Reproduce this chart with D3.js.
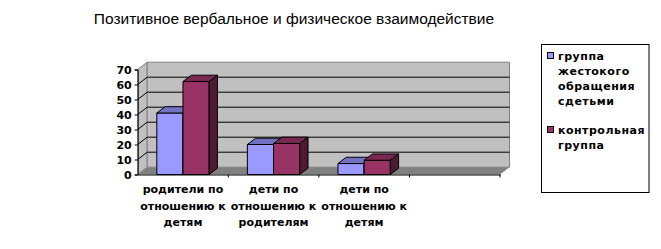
<!DOCTYPE html>
<html lang="ru">
<head>
<meta charset="UTF-8">
<title>Позитивное вербальное и физическое взаимодействие</title>
<script src="https://cdnjs.cloudflare.com/ajax/libs/d3/7.8.5/d3.min.js"></script>
<style>
  body { margin: 0; background: #fff; }
  svg { display: block; }
</style>
</head>
<body>
<div id="wrapper"></div>
<script>
const title = 'Позитивное вербальное и физическое взаимодействие'
// 4-я категория пустая, как в исходнике
const categories = [
    ['родители по', 'отношению к', 'детям'],
    ['дети по', 'отношению к', 'родителям'],
    ['дети по', 'отношению к', 'детям'],
    []
]
const seriesNames = [
    ['группа', 'жестокого', 'обращения', 'сдетьми'],
    ['контрольная', 'группа']
]
const abuseGroup = [41, 20, 7.3, null]
const controlGroup = [62, 20.7, 9.5, null]
const yTicks = [0, 10, 20, 30, 40, 50, 60, 70]

const colors = [
    { front: '#9999ff', top: '#7272c4', side: '#5c5ca3' },
    { front: '#993366', top: '#7a2852', side: '#4d1a33' }
]

const width = 661, height = 249
const plot = { left: 137.7, right: 500, top: 69.5, bottom: 174.5 }
const depth = { dx: 9.5, dy: -7.3 }
const barDepth = { dx: 8.3, dy: -6.3 }

const svg = d3.select('#wrapper').append('svg')
    .attr('width', width)
    .attr('height', height)
    .attr('viewBox', `0 0 ${width} ${height}`)

const xScale = d3.scaleBand()
    .domain(d3.range(categories.length))
    .range([plot.left, plot.right])

const yScale = d3.scaleLinear()
    .domain([0, 70])
    .range([plot.bottom, plot.top])

const pts = arr => arr.map(p => p.join(',')).join(' ')

// стены и пол
const y0 = yScale(0), yMax = yScale(70)
svg.append('polygon')  // левая стенка
    .attr('points', pts([[plot.left, y0], [plot.left, yMax], [plot.left + depth.dx, yMax + depth.dy], [plot.left + depth.dx, y0 + depth.dy]]))
    .attr('fill', '#c0c0c0').attr('stroke', '#808080')
svg.append('polygon')  // задняя стенка
    .attr('points', pts([[plot.left + depth.dx, yMax + depth.dy], [plot.right + depth.dx, yMax + depth.dy], [plot.right + depth.dx, y0 + depth.dy], [plot.left + depth.dx, y0 + depth.dy]]))
    .attr('fill', '#c0c0c0').attr('stroke', '#808080')
svg.append('polygon')  // пол
    .attr('points', pts([[plot.left, y0], [plot.right, y0], [plot.right + depth.dx, y0 + depth.dy], [plot.left + depth.dx, y0 + depth.dy]]))
    .attr('fill', '#808080')

// линии сетки
const grid = yTicks.filter(v => v > 0 && v < 70)
svg.append('g').selectAll('path').data(grid).join('path')
    .attr('d', v => `M${plot.left},${yScale(v)}L${plot.left + depth.dx},${yScale(v) + depth.dy}H${plot.right + depth.dx}`)
    .attr('fill', 'none').attr('stroke', '#000').attr('stroke-width', 1)

// оси
const yAxis = svg.append('g')
    .attr('transform', `translate(${plot.left},0)`)
    .call(d3.axisLeft(yScale).tickValues(yTicks).tickSize(3).tickPadding(3).tickFormat(d3.format('d')))
yAxis.select('.domain').attr('stroke', '#000')
yAxis.selectAll('text')
    .attr('font-family', '"DejaVu Sans", sans-serif')
    .attr('font-weight', 'bold')
    .attr('font-size', 11)
    .attr('fill', '#000')

const xAxis = svg.append('g')
    .attr('transform', `translate(0,${plot.bottom})`)
    .call(d3.axisBottom(xScale).tickValues([]).tickSizeOuter(0))
xAxis.select('.domain').attr('stroke', '#000')
xAxis.selectAll('.sep').data(d3.range(1, categories.length + 1)).join('line')
    .attr('class', 'sep')
    .attr('x1', i => xScale(i - 1) + xScale.bandwidth()).attr('x2', i => xScale(i - 1) + xScale.bandwidth())
    .attr('y1', 0).attr('y2', 3)
    .attr('stroke', '#000')

// столбцы
const inner = d3.scaleBand()
    .domain([0, 1])
    .range([0, xScale.bandwidth()])
    .paddingOuter(0.73)

const series = [abuseGroup, controlGroup]
const bars = []
categories.forEach((c, i) => {
    series.forEach((s, k) => {
        if (s[i] != null) bars.push({ cat: i, k, value: s[i] })
    })
})

const barG = svg.append('g').selectAll('g').data(bars).join('g')
barG.each(function (d) {
    const g = d3.select(this)
    const x = xScale(d.cat) + inner(d.k)
    const w = inner.bandwidth()
    const yt = yScale(d.value), yb = yScale(0)
    const { dx, dy } = barDepth
    g.append('polygon')
        .attr('points', pts([[x, yb], [x, yt], [x + w, yt], [x + w, yb]]))
        .attr('fill', colors[d.k].front)
    g.append('polygon')
        .attr('points', pts([[x, yt], [x + dx, yt + dy], [x + w + dx, yt + dy], [x + w, yt]]))
        .attr('fill', colors[d.k].top)
    g.append('polygon')
        .attr('points', pts([[x + w, yt], [x + w + dx, yt + dy], [x + w + dx, yb + dy], [x + w, yb]]))
        .attr('fill', colors[d.k].side)
    g.selectAll('polygon').attr('stroke', '#000').attr('stroke-width', 1).attr('stroke-linejoin', 'round')
})

// подписи категорий
svg.append('g').selectAll('text').data(categories).join('text')
    .attr('text-anchor', 'middle')
    .attr('font-family', '"DejaVu Sans", sans-serif')
    .attr('font-weight', 'bold')
    .attr('font-size', 11)
    .attr('fill', '#000')
    .each(function (lines, i) {
        d3.select(this).selectAll('tspan').data(lines).join('tspan')
            .attr('x', xScale(i) + xScale.bandwidth() / 2)
            .attr('y', (d, j) => 193 + j * 16.6)
            .text(d => d)
    })

// заголовок
svg.append('text')
    .attr('x', 294).attr('y', 24)
    .attr('text-anchor', 'middle')
    .attr('font-family', '"Liberation Sans", Arial, sans-serif')
    .attr('font-size', 15.5)
    .attr('fill', '#000')
    .text(title)

// легенда
const legend = svg.append('g')
legend.append('rect')
    .attr('x', 541.5).attr('y', 44.5).attr('width', 107.5).attr('height', 148)
    .attr('fill', '#fff').attr('stroke', '#000')
const legendTop = [56, 130]
seriesNames.forEach((lines, k) => {
    legend.append('rect')
        .attr('x', 547.5).attr('y', legendTop[k] - 3.5).attr('width', 6).attr('height', 6)
        .attr('fill', colors[k].front).attr('stroke', '#000')
    legend.append('text')
        .attr('font-family', '"DejaVu Sans", sans-serif')
        .attr('font-weight', 'bold')
        .attr('font-size', 11)
        .attr('letter-spacing', 0.5)
        .attr('fill', '#000')
        .selectAll('tspan').data(lines).join('tspan')
        .attr('x', 558).attr('y', (d, j) => legendTop[k] + 4 + j * 15)
        .text(d => d)
})
</script>
</body>
</html>
